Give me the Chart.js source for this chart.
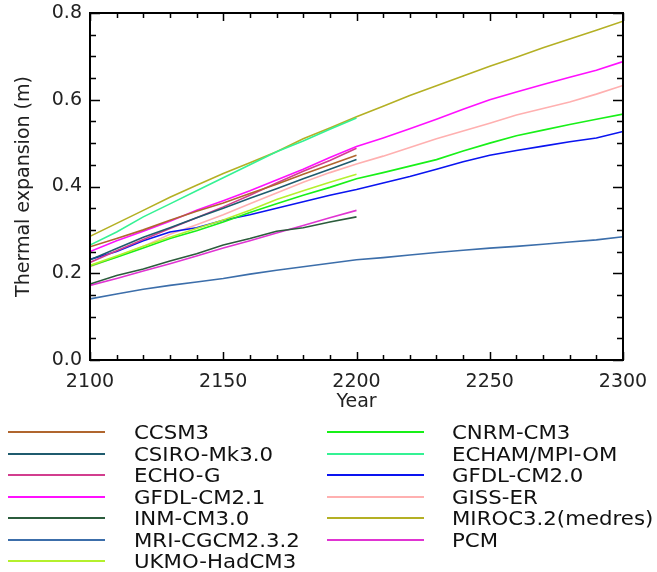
<!DOCTYPE html>
<html>
<head>
<meta charset="utf-8">
<title>Thermal expansion</title>
<script src="https://cdn.jsdelivr.net/npm/chart.js@4/dist/chart.umd.min.js"></script>
<style>
  body { margin: 0; background: #fff; overflow: hidden; }
  #wrap { position: relative; width: 657px; height: 572px; }
  #legend { position: absolute; left: 0; top: 0; width: 657px; height: 572px; pointer-events: none; }
  .lg-line { position: absolute; height: 2px; }
  .lg-text {
    position: absolute; font: 19px "DejaVu Sans", sans-serif; line-height: 20px;
    color: #111; white-space: nowrap; transform: scaleX(1.12); transform-origin: left center;
  }
</style>
</head>
<body>
<div id="wrap">
  <canvas id="chart" width="657" height="420"></canvas>
  <div id="legend"></div>
</div>
<script>
// Years (to 2200 and to 2300)
const years200 = [2100, 2110, 2120, 2130, 2140, 2150, 2160, 2170, 2180, 2190, 2200];
const years300 = [2100, 2110, 2120, 2130, 2140, 2150, 2160, 2170, 2180, 2190, 2200,
                  2210, 2220, 2230, 2240, 2250, 2260, 2270, 2280, 2290, 2300];

// Thermal expansion (m)
const ccsm3   = [0.261, 0.280, 0.300, 0.322, 0.343, 0.362, 0.384, 0.405, 0.428, 0.450, 0.472];
const csiro   = [0.231, 0.257, 0.283, 0.305, 0.328, 0.350, 0.373, 0.395, 0.418, 0.440, 0.462];
const echoG   = [0.225, 0.252, 0.278, 0.303, 0.328, 0.353, 0.380, 0.408, 0.435, 0.460, 0.488];
const gfdl21  = [0.250, 0.275, 0.297, 0.320, 0.345, 0.367, 0.390, 0.415, 0.440, 0.467, 0.492,
                 0.512, 0.533, 0.555, 0.578, 0.600, 0.618, 0.635, 0.652, 0.668, 0.688];
const inm     = [0.175, 0.195, 0.210, 0.228, 0.245, 0.265, 0.280, 0.297, 0.305, 0.318, 0.330];
const mri     = [0.141, 0.152, 0.163, 0.172, 0.180, 0.188, 0.198, 0.207, 0.215, 0.223, 0.231,
                 0.236, 0.242, 0.248, 0.253, 0.258, 0.262, 0.267, 0.272, 0.277, 0.284];
const ukmo    = [0.218, 0.240, 0.262, 0.283, 0.303, 0.323, 0.345, 0.370, 0.390, 0.410, 0.428];
const cnrm    = [0.217, 0.237, 0.258, 0.280, 0.298, 0.318, 0.340, 0.360, 0.380, 0.398, 0.418,
                 0.432, 0.447, 0.462, 0.482, 0.500, 0.517, 0.530, 0.543, 0.555, 0.567];
const echam   = [0.265, 0.295, 0.330, 0.360, 0.390, 0.420, 0.450, 0.480, 0.505, 0.532, 0.558];
const gfdl20  = [0.232, 0.250, 0.275, 0.295, 0.305, 0.322, 0.335, 0.350, 0.365, 0.380, 0.393,
                 0.408, 0.423, 0.440, 0.457, 0.472, 0.483, 0.493, 0.503, 0.512, 0.527];
const giss    = [0.215, 0.238, 0.262, 0.290, 0.312, 0.335, 0.360, 0.385, 0.410, 0.432, 0.452,
                 0.470, 0.490, 0.510, 0.528, 0.546, 0.565, 0.580, 0.595, 0.613, 0.633];
const miroc   = [0.285, 0.315, 0.345, 0.375, 0.403, 0.430, 0.455, 0.480, 0.510, 0.535, 0.561,
                 0.585, 0.610, 0.632, 0.655, 0.677, 0.698, 0.720, 0.740, 0.760, 0.781];
const pcm     = [0.172, 0.188, 0.205, 0.222, 0.240, 0.258, 0.275, 0.293, 0.310, 0.328, 0.345];

const yTicks = [0.0, 0.2, 0.4, 0.6, 0.8];
const xTicks = [2100, 2150, 2200, 2250, 2300];

const models = [
  { name: 'CCSM3',            years: years200, vals: ccsm3,  color: '#b0662e' },
  { name: 'CSIRO-Mk3.0',      years: years200, vals: csiro,  color: '#1f5b6e' },
  { name: 'ECHO-G',           years: years200, vals: echoG,  color: '#d23e8e' },
  { name: 'GFDL-CM2.1',       years: years300, vals: gfdl21, color: '#ff10ff' },
  { name: 'INM-CM3.0',        years: years200, vals: inm,    color: '#2b5c3c' },
  { name: 'MRI-CGCM2.3.2',    years: years300, vals: mri,    color: '#3c6eaa' },
  { name: 'UKMO-HadCM3',      years: years200, vals: ukmo,   color: '#b4f02c' },
  { name: 'CNRM-CM3',         years: years300, vals: cnrm,   color: '#18f018' },
  { name: 'ECHAM/MPI-OM',     years: years200, vals: echam,  color: '#34f294' },
  { name: 'GFDL-CM2.0',       years: years300, vals: gfdl20, color: '#0a14f0' },
  { name: 'GISS-ER',          years: years300, vals: giss,   color: '#ffb0b0' },
  { name: 'MIROC3.2(medres)', years: years300, vals: miroc,  color: '#b4b024' },
  { name: 'PCM',              years: years200, vals: pcm,    color: '#e034d2' },
];

const datasets = models.map(m => ({
  label: m.name,
  data: m.years.map((yr, i) => ({ x: yr, y: m.vals[i] })),
  borderColor: m.color,
  borderWidth: 1.6,
  pointRadius: 0,
  tension: 0,
  fill: false,
}));

// frame + inward ticks on all four sides
const frameTicks = {
  id: 'frameTicks',
  afterDatasetsDraw(chart) {
    const { ctx, chartArea: a, scales: { x, y } } = chart;
    ctx.save();
    ctx.strokeStyle = '#000';
    ctx.lineWidth = 1.5;
    ctx.beginPath();
    for (let yr = 2100; yr <= 2300; yr += 10) {
      const px = Math.round(x.getPixelForValue(yr)) + 0.5;
      const len = yr % 50 === 0 ? 8 : 5;
      ctx.moveTo(px, a.bottom); ctx.lineTo(px, a.bottom - len);
      ctx.moveTo(px, a.top); ctx.lineTo(px, a.top + len);
    }
    for (let i = 0; i <= 16; i++) {
      const py = Math.round(y.getPixelForValue(i * 0.05)) + 0.5;
      const len = i % 4 === 0 ? 10 : 6;
      ctx.moveTo(a.left, py); ctx.lineTo(a.left + len, py);
      ctx.moveTo(a.right, py); ctx.lineTo(a.right - len, py);
    }
    ctx.stroke();
    ctx.lineWidth = 2;
    ctx.strokeRect(a.left, a.top, a.right - a.left, a.bottom - a.top);
    ctx.restore();
  }
};

const font = { family: '"DejaVu Sans", sans-serif', size: 19 };

const chart = new Chart(document.getElementById('chart'), {
  type: 'line',
  data: { datasets },
  options: {
    responsive: false,
    animation: false,
    layout: { padding: { left: 0, right: 34, top: 13, bottom: 0 } },
    plugins: { legend: { display: false }, tooltip: { enabled: false } },
    scales: {
      x: {
        type: 'linear', min: 2100, max: 2300,
        afterBuildTicks: s => { s.ticks = xTicks.map(v => ({ value: v })); },
        afterFit: s => { s.height = 60; s.paddingLeft = 0; s.paddingRight = 0; },
        grid: { display: false, drawTicks: false },
        border: { display: false },
        ticks: { color: '#222', font, padding: 11, maxRotation: 0, callback: v => String(v) },
        title: { display: true, text: 'Year', color: '#222', font, padding: { top: 0, bottom: 7 } },
      },
      y: {
        type: 'linear', min: 0, max: 0.8,
        afterBuildTicks: s => { s.ticks = yTicks.map(v => ({ value: v })); },
        afterFit: s => { s.width = 90; s.paddingTop = 0; s.paddingBottom = 0; },
        grid: { display: false, drawTicks: false },
        border: { display: false },
        ticks: { color: '#222', font, padding: 8, callback: v => Number(v).toFixed(1) },
        title: { display: true, text: 'Thermal expansion (m)', color: '#222', font, padding: { top: 13, bottom: 0 } },
      },
    },
  },
  plugins: [frameTicks],
});

// legend in two columns, built from the datasets
const legend = document.getElementById('legend');
chart.data.datasets.forEach((ds, i) => {
  const col = i < 7 ? 0 : 1;
  const row = col === 0 ? i : i - 7;
  const cy = 432 + row * 21.5;
  const lineX = col === 0 ? 8 : 327;
  const textX = col === 0 ? 134 : 452;
  const ln = document.createElement('div');
  ln.className = 'lg-line';
  ln.style.left = lineX + 'px';
  ln.style.width = '97px';
  ln.style.top = (cy - 1) + 'px';
  ln.style.background = ds.borderColor;
  legend.appendChild(ln);
  const tx = document.createElement('div');
  tx.className = 'lg-text';
  tx.style.left = textX + 'px';
  tx.style.top = (cy - 10) + 'px';
  tx.textContent = ds.label;
  legend.appendChild(tx);
});
</script>
</body>
</html>
